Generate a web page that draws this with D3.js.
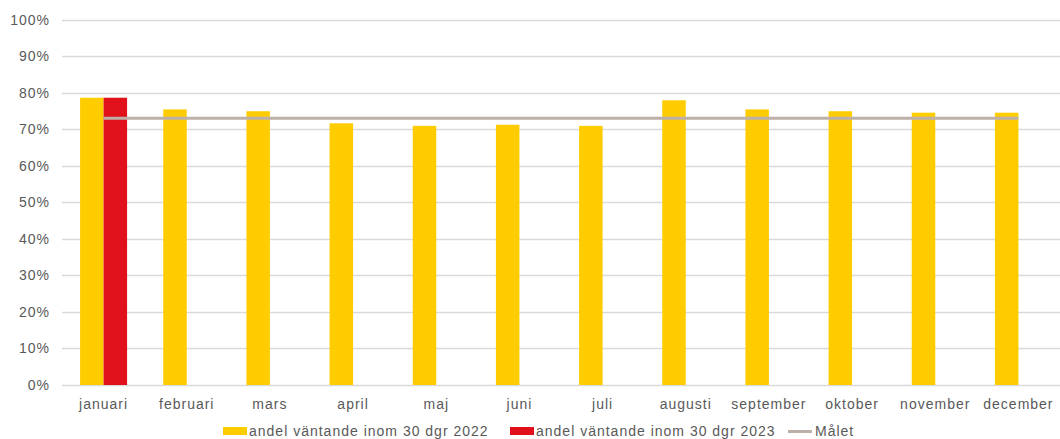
<!DOCTYPE html>
<html><head><meta charset="utf-8">
<script src="https://cdn.jsdelivr.net/npm/d3@7"></script>
<style>
body{margin:0;background:#fff;}
text{font-family:"Liberation Sans",Arial,sans-serif;fill:#595959;letter-spacing:1px;}
</style></head>
<body><svg id="c" width="1060" height="439"></svg>
<script>
const months = ["januari","februari","mars","april","maj","juni","juli","augusti","september","oktober","november","december"];
const values2022 = [0.786,0.754,0.749,0.716,0.709,0.712,0.709,0.779,0.754,0.749,0.745,0.745];
const values2023 = [0.786,null,null,null,null,null,null,null,null,null,null,null];
const target = [0.73,0.73,0.73,0.73,0.73,0.73,0.73,0.73,0.73,0.73,0.73,0.73];
const yTicks = [0,0.1,0.2,0.3,0.4,0.5,0.6,0.7,0.8,0.9,1.0];
const legendLabels = ["andel väntande inom 30 dgr 2022","andel väntande inom 30 dgr 2023","Målet"];

const svg = d3.select("#c");
const pLeft = 62, pRight = 1060, pTop = 19.5, pBottom = 385;
const x = d3.scaleBand().domain(months).range([pLeft,pRight]);
const y = d3.scaleLinear().domain([0,1]).range([pBottom,pTop]);
const barW = 23.5;

svg.append("g").selectAll("line").data(yTicks).join("line")
  .attr("x1",pLeft).attr("x2",pRight)
  .attr("y1",d=>Math.round(y(d))+0.5).attr("y2",d=>Math.round(y(d))+0.5)
  .attr("stroke","#d9d9d9").attr("stroke-width",1.5);

svg.append("g").selectAll("text").data(yTicks).join("text")
  .attr("x",50).attr("y",d=>y(d)+5).attr("text-anchor","end")
  .attr("font-size","14px").text(d=>d3.format(".0%")(d));

const cx = d=>x(d)+x.bandwidth()/2;

svg.append("g").selectAll("rect").data(months.map((m,i)=>({m,v:values2022[i]}))).join("rect")
  .attr("x",d=>cx(d.m)-barW).attr("width",barW)
  .attr("y",d=>y(d.v)).attr("height",d=>pBottom-y(d.v)).attr("fill","#ffcc00");

svg.append("g").selectAll("rect").data(months.map((m,i)=>({m,v:values2023[i]})).filter(d=>d.v!=null)).join("rect")
  .attr("x",d=>cx(d.m)).attr("width",barW)
  .attr("y",d=>y(d.v)).attr("height",d=>pBottom-y(d.v)).attr("fill","#e0111b");

const line = d3.line().x(d=>cx(d.m)).y(d=>y(d.v));
svg.append("path").datum(months.map((m,i)=>({m,v:target[i]})))
  .attr("d",line).attr("fill","none").attr("stroke","#bcb0a8").attr("stroke-width",3);

svg.append("g").selectAll("text").data(months).join("text")
  .attr("x",d=>cx(d)).attr("y",409).attr("text-anchor","middle")
  .attr("font-size","14px").text(d=>d);

// legend
const lg = svg.append("g");
const items = [
  {x:223, type:"rect", color:"#ffcc00", tx:249, label:legendLabels[0]},
  {x:510, type:"rect", color:"#e0111b", tx:536, label:legendLabels[1]},
  {x:788, type:"line", color:"#bcb0a8", tx:815, label:legendLabels[2]}
];
items.forEach(it=>{
  if(it.type==="rect") lg.append("rect").attr("x",it.x).attr("y",427).attr("width",24).attr("height",8).attr("fill",it.color);
  else lg.append("line").attr("x1",it.x).attr("x2",it.x+24).attr("y1",431.5).attr("y2",431.5).attr("stroke",it.color).attr("stroke-width",3);
  lg.append("text").attr("x",it.tx).attr("y",436).attr("font-size","14px").text(it.label);
});
</script></body></html>
